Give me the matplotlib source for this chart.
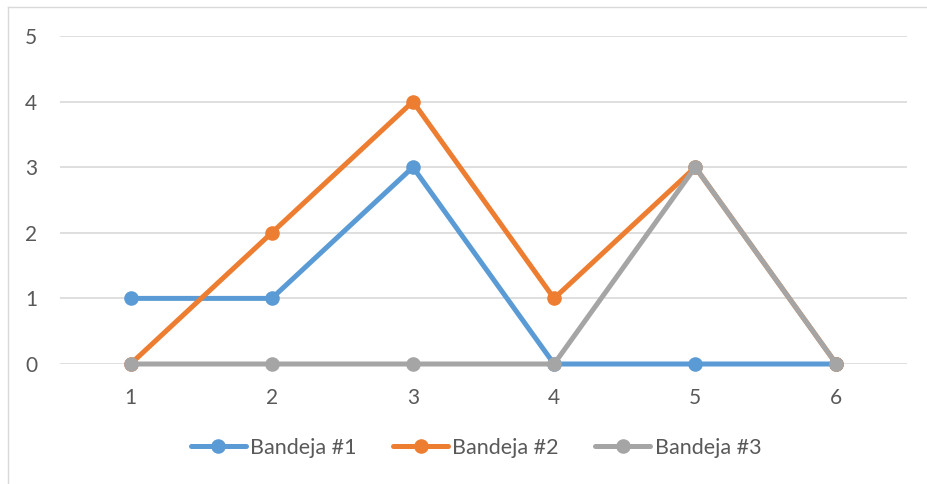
import matplotlib
matplotlib.use("Agg")
import matplotlib.pyplot as plt
from matplotlib.lines import Line2D

categories = [1, 2, 3, 4, 5, 6]
bandeja_1 = [1, 1, 3, 0, 0, 0]
bandeja_2 = [0, 2, 4, 1, 3, 0]
bandeja_3 = [0, 0, 0, 0, 3, 0]
series_names = ["Bandeja #1", "Bandeja #2", "Bandeja #3"]
colors = ["#5B9BD5", "#ED7D31", "#A5A5A5"]
y_ticks = [0, 1, 2, 3, 4, 5]

plt.rcParams["font.family"] = ["Lato", "DejaVu Sans"]
text_color = "#595959"

W, H = 927, 484
fig = plt.figure(figsize=(W / 100, H / 100), dpi=100)
ax = fig.add_axes([60 / W, 1 - 364 / H, (907 - 60) / W, (364 - 36) / H])

xpos = list(range(len(categories)))
for vals, name, c in zip([bandeja_1, bandeja_2, bandeja_3], series_names, colors):
    ax.plot(xpos, vals, color=c, lw=3.6, marker="o", markersize=10.5,
            markeredgewidth=0, solid_capstyle="round", solid_joinstyle="round",
            label=name, zorder=3, clip_on=False)

ax.set_xlim(-0.5, len(categories) - 0.5)
ax.set_ylim(0, 5)
ax.set_yticks(y_ticks)
ax.set_yticklabels([str(v) for v in y_ticks])
ax.set_xticks(xpos)
ax.set_xticklabels([str(c) for c in categories])
ax.grid(axis="y", color="#D9D9D9", lw=1.2, zorder=0)
ax.set_axisbelow(True)
for s in ax.spines.values():
    s.set_visible(False)
ax.tick_params(axis="both", length=0, labelsize=15, colors=text_color)
ax.tick_params(axis="y", pad=16.5)
ax.tick_params(axis="x", pad=17)

leg = fig.legend(loc="center", bbox_to_anchor=(476 / W, 1 - 448 / H), ncol=3,
                 frameon=False, fontsize=15.5, handlelength=2.55, handletextpad=0.2,
                 columnspacing=1.7)
for t in leg.get_texts():
    t.set_color(text_color)

# chart area border
fig.add_artist(Line2D([8 / W, 8 / W], [0, 1 - 7 / H], transform=fig.transFigure,
                      color="#D9D9D9", lw=1))
fig.add_artist(Line2D([8 / W, 1], [1 - 7 / H, 1 - 7 / H], transform=fig.transFigure,
                      color="#D9D9D9", lw=1))

fig.savefig("out.png", dpi=100)
